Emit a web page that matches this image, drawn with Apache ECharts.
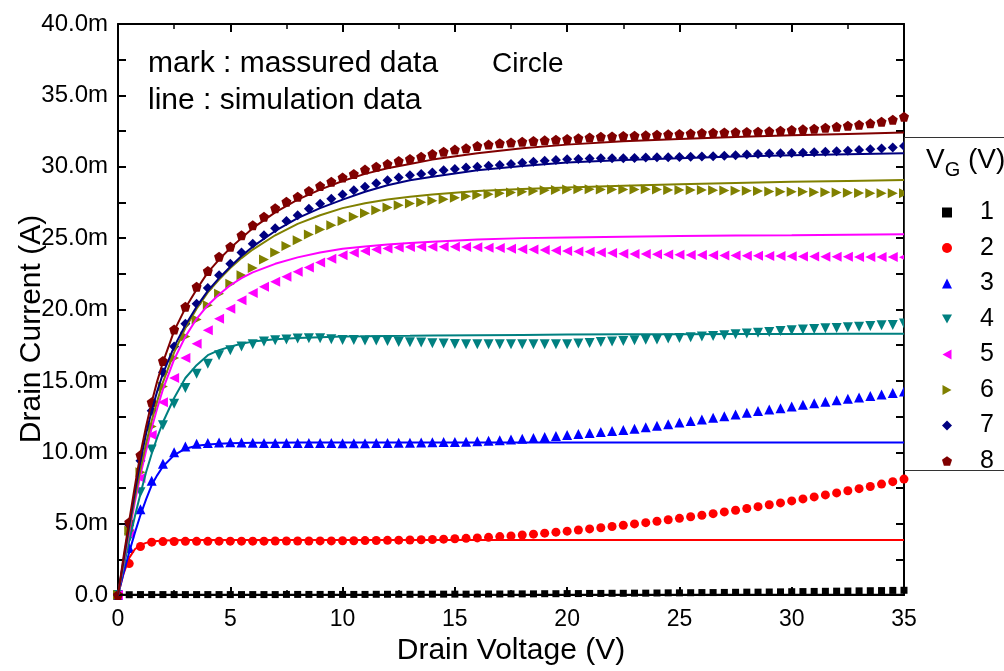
<!DOCTYPE html>
<html>
<head>
<meta charset="utf-8">
<title>Drain current vs drain voltage</title>
<script src="https://cdn.jsdelivr.net/npm/echarts@6/dist/echarts.min.js"></script>
<style>
  html, body { margin: 0; padding: 0; background: #fff; }
  #chart { width: 1004px; height: 671px; }
</style>
</head>
<body>
<div id="chart"></div>
<script>
// Drain voltage (V) of the measured points
const vMeas = [
  0, 0.5, 1, 1.5, 2, 2.5, 3, 3.5, 4, 4.5,
  5, 5.5, 6, 6.5, 7, 7.5, 8, 8.5, 9, 9.5,
  10, 10.5, 11, 11.5, 12, 12.5, 13, 13.5, 14, 14.5,
  15, 15.5, 16, 16.5, 17, 17.5, 18, 18.5, 19, 19.5,
  20, 20.5, 21, 21.5, 22, 22.5, 23, 23.5, 24, 24.5,
  25, 25.5, 26, 26.5, 27, 27.5, 28, 28.5, 29, 29.5,
  30, 30.5, 31, 31.5, 32, 32.5, 33, 33.5, 34, 34.5, 35
];

// Measured drain current (mA), one array per gate voltage
const meas1 = [
  0, 0.02, 0.03, 0.03, 0.03, 0.03, 0.03, 0.03, 0.03, 0.03,
  0.03, 0.03, 0.03, 0.03, 0.03, 0.04, 0.04, 0.04, 0.04, 0.04,
  0.04, 0.04, 0.04, 0.05, 0.05, 0.05, 0.05, 0.05, 0.06, 0.06,
  0.06, 0.06, 0.07, 0.07, 0.07, 0.08, 0.08, 0.08, 0.09, 0.09,
  0.1, 0.1, 0.11, 0.11, 0.12, 0.12, 0.13, 0.13, 0.14, 0.15,
  0.15, 0.16, 0.17, 0.17, 0.18, 0.19, 0.2, 0.2, 0.21, 0.22,
  0.23, 0.24, 0.25, 0.26, 0.27, 0.28, 0.29, 0.3, 0.31, 0.32, 0.33
];
const meas2 = [
  0, 2.2, 3.4, 3.7, 3.74, 3.75, 3.76, 3.76, 3.76, 3.77,
  3.77, 3.77, 3.77, 3.77, 3.78, 3.78, 3.78, 3.78, 3.79, 3.79,
  3.8, 3.8, 3.81, 3.82, 3.83, 3.84, 3.85, 3.87, 3.89, 3.91,
  3.94, 3.97, 4.0, 4.04, 4.09, 4.14, 4.2, 4.26, 4.33, 4.4,
  4.47, 4.55, 4.63, 4.71, 4.8, 4.89, 4.98, 5.07, 5.17, 5.27,
  5.37, 5.48, 5.59, 5.7, 5.82, 5.94, 6.06, 6.19, 6.32, 6.45,
  6.59, 6.73, 6.87, 7.01, 7.15, 7.3, 7.45, 7.6, 7.77, 7.94, 8.12
];
const meas3 = [
  0, 3.3, 6.0, 8.0, 9.2, 10.0, 10.4, 10.6, 10.65, 10.68,
  10.7, 10.68, 10.66, 10.65, 10.65, 10.64, 10.64, 10.65, 10.65, 10.64,
  10.63, 10.63, 10.63, 10.64, 10.65, 10.66, 10.67, 10.68, 10.7, 10.71,
  10.72, 10.74, 10.77, 10.8, 10.84, 10.89, 10.95, 11.0, 11.07, 11.14,
  11.21, 11.28, 11.35, 11.42, 11.49, 11.56, 11.65, 11.75, 11.86, 11.97,
  12.08, 12.19, 12.3, 12.41, 12.53, 12.65, 12.77, 12.89, 12.99, 13.08,
  13.2, 13.32, 13.44, 13.54, 13.64, 13.74, 13.84, 13.94, 14.04, 14.15, 14.25
];
const meas4 = [
  0, 4.0, 7.2, 10.2, 11.9, 13.4, 14.5, 15.5, 16.2, 16.8,
  17.15, 17.4, 17.56, 17.75, 17.85, 17.9, 17.97, 17.98, 17.98, 17.92,
  17.87, 17.86, 17.83, 17.82, 17.8, 17.72, 17.7, 17.68, 17.64, 17.62,
  17.58, 17.57, 17.56, 17.56, 17.56, 17.56, 17.56, 17.56, 17.56, 17.56,
  17.57, 17.62, 17.65, 17.72, 17.75, 17.8, 17.85, 17.88, 17.9, 17.97,
  18.0, 18.05, 18.1, 18.14, 18.2, 18.27, 18.32, 18.38, 18.43, 18.49,
  18.55, 18.6, 18.64, 18.68, 18.71, 18.75, 18.8, 18.84, 18.9, 18.92, 19.02
];
const meas5 = [
  0, 4.3, 8.2, 11.2, 13.5, 15.2, 16.6, 17.6, 18.55, 19.35,
  20.05, 20.65, 21.15, 21.6, 21.95, 22.3, 22.65, 22.95, 23.3, 23.55,
  23.8, 23.97, 24.1, 24.2, 24.28, 24.35, 24.38, 24.4, 24.4, 24.4,
  24.4, 24.38, 24.36, 24.33, 24.3, 24.26, 24.22, 24.2, 24.17, 24.13,
  24.1, 24.07, 24.04, 24.0, 23.95, 23.9, 23.89, 23.88, 23.87, 23.86,
  23.84, 23.82, 23.81, 23.8, 23.79, 23.78, 23.77, 23.76, 23.75, 23.74,
  23.73, 23.72, 23.71, 23.7, 23.7, 23.69, 23.68, 23.68, 23.67, 23.67, 23.66
];
const meas6 = [
  0, 4.5, 8.6, 11.8, 14.6, 16.6, 18.1, 19.3, 20.3, 21.1,
  21.8, 22.4, 22.9, 23.5, 24.0, 24.45, 24.85, 25.25, 25.6, 25.9,
  26.2, 26.5, 26.75, 26.95, 27.15, 27.3, 27.42, 27.52, 27.62, 27.73,
  27.83, 27.93, 28.02, 28.08, 28.14, 28.2, 28.25, 28.3, 28.35, 28.38,
  28.4, 28.42, 28.42, 28.4, 28.4, 28.4, 28.41, 28.42, 28.4, 28.38,
  28.38, 28.37, 28.37, 28.36, 28.34, 28.32, 28.31, 28.3, 28.27, 28.25,
  28.25, 28.24, 28.22, 28.21, 28.2, 28.18, 28.16, 28.14, 28.14, 28.14, 28.15
];
const meas7 = [
  0, 4.9, 9.4, 12.9, 15.6, 17.4, 19.0, 20.4, 21.5, 22.4,
  23.2, 24.0, 24.6, 25.2, 25.7, 26.2, 26.6, 27.05, 27.4, 27.75,
  28.05, 28.35, 28.6, 28.85, 29.05, 29.25, 29.4, 29.5, 29.6, 29.75,
  29.85, 29.95, 30.0, 30.07, 30.12, 30.2, 30.28, 30.35, 30.42, 30.47,
  30.52, 30.55, 30.58, 30.6, 30.6, 30.6, 30.62, 30.65, 30.66, 30.67,
  30.68, 30.7, 30.71, 30.73, 30.77, 30.81, 30.85, 30.89, 30.92, 30.94,
  30.96, 30.98, 31.01, 31.05, 31.09, 31.12, 31.17, 31.22, 31.28, 31.34, 31.45
];
const meas8 = [
  0, 5.1, 9.8, 13.5, 16.4, 18.6, 20.2, 21.6, 22.7, 23.7,
  24.4, 25.2, 25.9, 26.5, 27.1, 27.55, 27.9, 28.3, 28.65, 28.95,
  29.25, 29.5, 29.8, 30.0, 30.2, 30.4, 30.55, 30.7, 30.9, 31.05,
  31.2, 31.3, 31.45, 31.55, 31.65, 31.7, 31.75, 31.8, 31.85, 31.9,
  31.95, 32.0, 32.05, 32.1, 32.12, 32.15, 32.18, 32.2, 32.24, 32.27,
  32.3, 32.33, 32.36, 32.38, 32.4, 32.42, 32.44, 32.46, 32.48, 32.52,
  32.57, 32.62, 32.67, 32.73, 32.8, 32.87, 32.95, 33.04, 33.15, 33.3, 33.5
];

// Drain voltage (V) of the simulated curves
const vSim = [
  0, 0.25, 0.5, 0.75, 1, 1.25, 1.5, 1.75, 2, 2.5, 3, 3.5, 4, 4.5, 5, 5.5, 6,
  7, 8, 9, 10, 11, 12, 13, 14, 16, 18, 20, 22.5, 25, 27.5, 30, 32.5, 35
];

// Simulated drain current (mA)
const sim1 = [
  0, 0.01, 0.02, 0.02, 0.02, 0.02, 0.02, 0.02, 0.02, 0.02, 0.02, 0.02, 0.02, 0.02, 0.02, 0.02, 0.02,
  0.02, 0.02, 0.02, 0.02, 0.02, 0.02, 0.02, 0.02, 0.02, 0.02, 0.02, 0.02, 0.02, 0.02, 0.02, 0.02, 0.02
];
const sim2 = [
  0, 1.5, 2.6, 3.2, 3.5, 3.65, 3.75, 3.79, 3.82, 3.84, 3.85, 3.85, 3.85, 3.85, 3.85, 3.85, 3.85,
  3.85, 3.85, 3.85, 3.85, 3.85, 3.85, 3.85, 3.85, 3.85, 3.85, 3.85, 3.85, 3.85, 3.85, 3.85, 3.85, 3.85
];
const sim3 = [
  0, 1.55, 3.0, 4.35, 5.6, 6.7, 7.7, 8.4, 9.0, 9.8, 10.25, 10.45, 10.55, 10.6, 10.63, 10.65, 10.66,
  10.67, 10.68, 10.68, 10.68, 10.68, 10.68, 10.68, 10.68, 10.68, 10.68, 10.68, 10.68, 10.68, 10.68, 10.68, 10.68, 10.68
];
const sim4 = [
  0, 1.95, 3.8, 5.5, 7.1, 8.6, 9.9, 11.05, 12.1, 13.8, 15.2, 16.1, 16.8, 17.15, 17.4, 17.6, 17.75,
  17.92, 18.0, 18.05, 18.1, 18.12, 18.15, 18.16, 18.18, 18.2, 18.22, 18.24, 18.26, 18.27, 18.28, 18.29, 18.3, 18.3
];
const sim5 = [
  0, 2.25, 4.4, 6.5, 8.4, 10.1, 11.7, 13.1, 14.4, 16.5, 18.1, 19.35, 20.3, 21.05, 21.7, 22.2, 22.6,
  23.2, 23.65, 24.0, 24.25, 24.42, 24.55, 24.66, 24.75, 24.9, 25.0, 25.05, 25.1, 25.15, 25.18, 25.2, 25.24, 25.27
];
const sim6 = [
  0, 2.35, 4.6, 6.8, 8.8, 10.6, 12.2, 13.6, 14.9, 17.0, 18.7, 20.05, 21.2, 22.1, 22.9, 23.6, 24.2,
  25.2, 26.0, 26.6, 27.1, 27.45, 27.7, 27.9, 28.05, 28.3, 28.45, 28.55, 28.67, 28.78, 28.87, 28.95, 29.01, 29.07
];
const sim7 = [
  0, 2.5, 4.9, 7.2, 9.4, 11.3, 12.9, 14.3, 15.5, 17.4, 18.9, 20.2, 21.3, 22.2, 23.0, 23.75, 24.4,
  25.5, 26.4, 27.1, 27.7, 28.25, 28.7, 29.05, 29.3, 29.75, 30.05, 30.3, 30.48, 30.6, 30.71, 30.8, 30.88, 30.95
];
const sim8 = [
  0, 2.7, 5.2, 7.6, 9.9, 11.8, 13.5, 15.0, 16.3, 18.5, 20.1, 21.4, 22.6, 23.5, 24.3, 25.0, 25.7,
  26.8, 27.7, 28.4, 29.0, 29.5, 29.9, 30.2, 30.5, 30.95, 31.3, 31.55, 31.78, 31.95, 32.08, 32.2, 32.3, 32.4
];

// Gate voltage labels (V)
const gateLabels = ['1', '2', '3', '4', '5', '6', '7', '8'];

const measured = [meas1, meas2, meas3, meas4, meas5, meas6, meas7, meas8];
const simulated = [sim1, sim2, sim3, sim4, sim5, sim6, sim7, sim8];

const COLORS = ['#000000', '#ff0000', '#0000ff', '#008080', '#ff00ff', '#808000', '#000080', '#800000'];
const TRI_DOWN = 'path://M0,0 L10,0 L5,9 Z';
const TRI_LEFT = 'path://M9,0 L9,10 L0,5 Z';
const TRI_RIGHT = 'path://M0,0 L0,10 L9,5 Z';
const PENTAGON = 'path://M5,0 L10,3.6 L8.1,9.5 L1.9,9.5 L0,3.6 Z';
const SYMBOLS = ['rect', 'circle', 'triangle', TRI_DOWN, TRI_LEFT, TRI_RIGHT, 'diamond', PENTAGON];
const SYMBOL_SIZES = [7, 9, 10, 10, 10, 10, 10, 10];

const FONT = '"Liberation Sans", Arial, Helvetica, sans-serif';

const pair = (xs, ys) => xs.map((x, i) => [x, ys[i]]);

const series = [];
gateLabels.forEach((name, i) => {
  series.push({
    name: name,
    type: 'scatter',
    data: pair(vMeas, measured[i]),
    symbol: SYMBOLS[i],
    symbolSize: SYMBOL_SIZES[i],
    itemStyle: { color: COLORS[i], opacity: 1 },
    z: 2,
    silent: true
  });
});
gateLabels.forEach((name, i) => {
  series.push({
    name: 'sim-' + name,
    type: 'line',
    data: pair(vSim, simulated[i]),
    showSymbol: false,
    smooth: false,
    lineStyle: { color: COLORS[i], width: 2 },
    itemStyle: { color: COLORS[i] },
    z: 3,
    silent: true
  });
});

const axisLineStyle = { color: '#000', width: 2 };

const chart = echarts.init(document.getElementById('chart'), null, { renderer: 'canvas' });
chart.setOption({
  animation: false,
  backgroundColor: '#fff',
  grid: { left: 118, right: 100, top: 24, bottom: 76, containLabel: false, outerBoundsMode: 'none' },
  xAxis: [
    {
      type: 'value', min: 0, max: 35, interval: 5, position: 'bottom',
      axisLine: { show: true, onZero: false, lineStyle: axisLineStyle },
      axisTick: { show: true, inside: true, length: 8, lineStyle: { color: '#000', width: 2 } },
      minorTick: { show: true, splitNumber: 2, length: 5, lineStyle: { color: '#000', width: 1.5 } },
      splitLine: { show: false },
      axisLabel: { color: '#000', fontSize: 23, fontFamily: FONT, margin: 13 },
      name: 'Drain Voltage (V)', nameLocation: 'middle', nameGap: 41,
      nameTextStyle: { color: '#000', fontSize: 30, fontFamily: FONT }
    },
    {
      type: 'value', min: 0, max: 35, interval: 5, position: 'top',
      axisLine: { show: true, onZero: false, lineStyle: axisLineStyle },
      axisTick: { show: true, inside: true, length: 8, lineStyle: { color: '#000', width: 2 } },
      minorTick: { show: true, splitNumber: 2, length: 5, lineStyle: { color: '#000', width: 1.5 } },
      splitLine: { show: false },
      axisLabel: { show: false }
    }
  ],
  yAxis: [
    {
      type: 'value', min: 0, max: 40, interval: 5, position: 'left',
      axisLine: { show: true, onZero: false, lineStyle: axisLineStyle },
      axisTick: { show: true, inside: true, length: 8, lineStyle: { color: '#000', width: 2 } },
      minorTick: { show: true, splitNumber: 2, length: 8, lineStyle: { color: '#000', width: 2 } },
      splitLine: { show: false },
      axisLabel: {
        color: '#000', fontSize: 24, fontFamily: FONT, margin: 10,
        formatter: v => (v === 0 ? '0.0' : v.toFixed(1) + 'm')
      }
    },
    {
      type: 'value', min: 0, max: 40, interval: 5, position: 'right',
      axisLine: { show: true, onZero: false, lineStyle: axisLineStyle },
      axisTick: { show: true, inside: true, length: 8, lineStyle: { color: '#000', width: 2 } },
      minorTick: { show: true, splitNumber: 2, length: 8, lineStyle: { color: '#000', width: 2 } },
      splitLine: { show: false },
      axisLabel: { show: false }
    }
  ],
  legend: {
    orient: 'vertical',
    left: 937,
    top: 195,
    itemWidth: 10,
    itemHeight: 10,
    itemGap: 10.5,
    selectedMode: false,
    z: 20,
    data: gateLabels.map((n, i) => ({ name: n, icon: SYMBOLS[i] })),
    textStyle: { color: '#000', fontSize: 25, lineHeight: 24, fontFamily: FONT, padding: [0, 0, 0, 23] }
  },
  graphic: [
    {
      type: 'rect', z: 10, silent: true,
      shape: { x: 904.5, y: 137.5, width: 130, height: 333 },
      style: { fill: '#fff', stroke: '#333', lineWidth: 1 }
    },
    {
      type: 'text', z: 21, left: 926, top: 145, silent: true,
      style: {
        text: '{v|V}{g|G}{v| (V)}',
        fontFamily: FONT,
        rich: {
          v: { fontSize: 28, fontFamily: FONT, fill: '#000', verticalAlign: 'top', lineHeight: 32 },
          g: { fontSize: 20, fontFamily: FONT, fill: '#000', padding: [15, 0, 0, 0], lineHeight: 32 }
        }
      }
    },
    {
      type: 'text', z: 21, silent: true,
      x: 32, y: 329, rotation: Math.PI / 2,
      style: {
        text: 'Drain Current (A)', fontSize: 30, fontFamily: FONT, fill: '#000',
        align: 'center', verticalAlign: 'middle'
      }
    },
    {
      type: 'text', z: 21, left: 148, top: 49, silent: true,
      style: { text: 'mark : massured data', fontSize: 30, fontFamily: FONT, fill: '#000' }
    },
    {
      type: 'text', z: 21, left: 492, top: 50, silent: true,
      style: { text: 'Circle', fontSize: 28, fontFamily: FONT, fill: '#000' }
    },
    {
      type: 'text', z: 21, left: 148, top: 86, silent: true,
      style: { text: 'line : simulation data', fontSize: 30, fontFamily: FONT, fill: '#000' }
    }
  ],
  series: series
});
</script>
</body>
</html>
